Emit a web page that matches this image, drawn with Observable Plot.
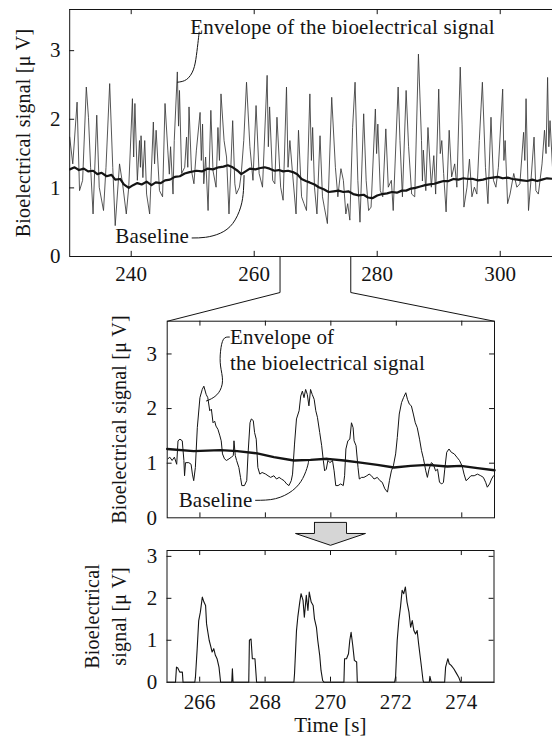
<!DOCTYPE html>
<html>
<head>
<meta charset="utf-8">
<script src="https://cdn.jsdelivr.net/npm/d3@7"></script>
<script src="https://cdn.jsdelivr.net/npm/@observablehq/plot@0.6"></script>
<style>
  html, body { margin: 0; padding: 0; background: #fff; }
  #chart { position: relative; width: 552px; height: 736px; overflow: hidden; }
  #chart svg { position: absolute; left: 0; top: 0; }
  #chart svg text { font-family: "Liberation Serif", "Times New Roman", serif; letter-spacing: 0.2px; }
</style>
</head>
<body>
<div id="chart"></div>
<script>
// ---------- DATA ----------
// Top panel: envelope of the bioelectrical signal [time s, µV]
const topEnvelope = [
  [230.0,1.74],[230.5,1.35],[231.2,2.25],[231.6,0.96],[232.1,1.11],[232.7,2.47],[233.05,2.03],[233.4,1.30],[233.8,0.62],[234.4,2.06],
  [234.8,1.01],[235.5,0.67],[235.9,1.30],[236.5,2.52],[237.0,1.30],[237.4,0.45],[238.1,1.35],[238.6,1.06],[239.2,0.62],[239.6,1.01],
  [240.2,2.30],[240.4,1.45],[240.6,2.23],[241.0,1.11],[241.35,1.69],[241.5,1.30],[241.6,1.76],[241.9,1.15],[242.2,1.69],[242.5,0.91],
  [243.0,0.62],[243.6,1.96],[243.8,1.35],[244.05,1.84],[244.6,0.96],[245.1,0.87],[245.5,2.23],[245.95,1.55],[246.2,1.20],[246.4,1.60],
  [246.8,0.91],[247.0,1.69],[247.5,2.69],[247.7,1.90],[247.85,2.42],[248.2,1.21],[248.7,1.30],[249.0,1.74],[249.2,1.30],[249.4,2.18],
  [249.8,1.25],[250.2,1.06],[250.6,1.55],[251.2,2.10],[251.4,1.40],[251.6,1.93],[251.8,1.06],[252.1,1.45],[252.5,0.67],[252.95,2.13],
  [253.3,1.25],[253.8,1.01],[254.1,1.88],[254.35,1.40],[254.6,2.37],[255.1,1.69],[255.5,1.45],[255.9,0.62],[256.5,1.98],[256.85,1.06],
  [257.1,0.91],[257.6,1.01],[257.9,1.21],[258.3,1.69],[258.75,2.54],[259.3,1.60],[259.8,1.11],[260.3,2.20],[260.8,1.21],[261.35,1.01],
  [262.1,2.64],[262.3,1.60],[262.5,2.18],[263.0,1.11],[263.35,1.06],[263.7,2.03],[264.3,1.01],[264.7,0.82],[265.25,2.47],[265.5,1.30],
  [265.8,1.69],[266.2,1.25],[266.8,0.62],[267.2,1.84],[267.7,0.87],[268.1,0.77],[268.5,0.67],[269.05,2.37],[269.3,1.40],[269.5,1.88],
  [269.8,1.01],[270.2,0.62],[270.7,1.76],[271.1,0.87],[271.4,0.72],[271.9,0.48],[272.6,2.32],[273.2,1.30],[273.6,0.87],[274.1,1.28],
  [274.5,1.11],[274.9,0.62],[275.2,0.77],[275.55,0.53],[276.0,1.88],[276.4,2.54],[276.85,1.11],[277.2,0.50],[277.8,2.08],[278.2,1.11],
  [278.6,0.67],[279.0,0.72],[279.7,2.15],[279.9,1.50],[280.1,1.93],[280.5,0.96],[280.9,0.87],[281.4,1.86],[281.8,1.01],[282.3,1.11],
  [282.6,0.67],[283.4,2.47],[283.7,1.69],[284.1,0.87],[284.7,2.42],[285.1,1.60],[285.6,0.91],[286.1,0.87],[286.7,2.95],[287.2,1.69],
  [287.35,1.10],[287.5,1.55],[287.9,0.96],[288.25,1.88],[288.8,1.01],[289.2,1.47],[289.5,0.91],[290.0,2.44],[290.25,1.50],[290.5,1.69],
  [290.8,1.21],[291.2,0.65],[291.7,1.84],[292.1,1.16],[292.6,1.35],[292.95,1.01],[293.5,2.76],[293.8,1.93],[294.1,0.72],[294.6,1.01],
  [295.0,1.42],[295.4,0.87],[295.8,1.01],[296.2,0.91],[296.6,1.69],[297.1,2.54],[297.6,1.30],[298.0,0.77],[298.5,2.03],[298.9,1.11],
  [299.3,1.01],[299.7,1.30],[300.4,2.44],[300.6,1.40],[300.8,1.69],[301.2,0.77],[301.6,0.91],[302.2,1.21],[302.7,1.01],[303.2,1.06],
  [303.8,1.81],[304.0,1.40],[304.2,2.30],[304.6,0.67],[305.0,1.11],[305.5,1.74],[305.8,0.96],[306.2,0.91],[306.8,1.35],[307.2,1.84],
  [307.45,1.50],[307.7,2.61],[307.9,1.60],[308.1,1.98],[308.5,1.30],[308.8,1.10]
];
// Top panel: baseline
const topBaseline = [
  [230.0,1.27],[230.8,1.30],[231.5,1.26],[232.3,1.28],[233.0,1.24],[233.8,1.25],[234.5,1.20],[235.2,1.22],[236.0,1.17],[236.8,1.19],
  [237.4,1.12],[238.2,1.13],[238.8,1.05],[239.6,1.00],[240.3,1.04],[241.0,1.07],[241.7,1.05],[242.5,1.09],[243.3,1.04],[244.0,1.08],
  [244.8,1.07],[245.5,1.11],[246.3,1.12],[247.1,1.16],[247.9,1.17],[248.7,1.21],[249.5,1.23],[250.6,1.25],[251.5,1.24],[252.4,1.28],
  [253.3,1.27],[254.2,1.30],[255.0,1.31],[255.7,1.33],[256.5,1.30],[257.3,1.25],[257.9,1.20],[258.6,1.24],[259.3,1.28],[260.2,1.27],
  [261.0,1.29],[261.7,1.30],[262.5,1.28],[263.3,1.25],[264.0,1.26],[264.7,1.24],[265.5,1.25],[266.3,1.23],[267.0,1.20],[267.7,1.13],
  [268.4,1.10],[269.0,1.08],[269.8,1.05],[270.5,1.01],[271.3,0.98],[272.1,0.94],[272.9,0.95],[273.7,0.96],[274.5,0.94],[275.3,0.95],
  [276.1,0.91],[277.0,0.89],[277.8,0.90],[278.5,0.86],[279.2,0.85],[280.0,0.89],[280.8,0.91],[281.6,0.92],[282.4,0.94],[283.2,0.93],
  [284.0,0.96],[284.7,0.96],[285.5,0.99],[286.2,1.00],[287.0,1.02],[287.8,1.04],[288.5,1.05],[289.3,1.06],[290.0,1.08],[290.8,1.10],
  [291.6,1.10],[292.4,1.13],[293.2,1.12],[294.0,1.14],[294.8,1.13],[295.6,1.13],[296.4,1.11],[297.2,1.12],[298.0,1.14],[298.8,1.15],
  [299.6,1.16],[300.4,1.14],[301.2,1.15],[302.0,1.13],[302.8,1.12],[303.6,1.11],[304.4,1.10],[305.2,1.12],[306.0,1.10],[306.8,1.12],
  [307.6,1.14],[308.8,1.13]
];
// Middle panel (zoom 265-275 s): envelope
const midEnvelope = [
  [265.02,1.08],[265.08,1.11],[265.15,1.05],[265.22,1.11],[265.29,0.98],[265.33,1.41],[265.39,1.44],[265.46,1.41],[265.51,1.05],[265.53,0.77],
  [265.56,1.01],[265.66,1.01],[265.73,0.98],[265.77,0.80],[265.81,0.68],[265.86,0.92],[265.92,1.65],[266.00,2.20],[266.07,2.35],[266.12,2.41],
  [266.19,2.26],[266.24,2.20],[266.30,1.96],[266.35,1.99],[266.40,1.74],[266.45,1.77],[266.49,1.68],[266.55,1.62],[266.61,1.50],[266.65,1.41],
  [266.69,1.17],[266.75,1.08],[266.81,1.05],[266.89,1.08],[266.96,1.11],[267.02,1.14],[267.04,1.41],[267.08,1.14],[267.12,1.05],[267.19,0.92],
  [267.24,0.74],[267.28,0.59],[267.36,0.59],[267.43,0.68],[267.47,1.17],[267.53,1.74],[267.57,1.81],[267.63,1.78],[267.67,1.56],[267.72,1.44],
  [267.77,0.92],[267.83,0.80],[267.90,0.83],[268.01,0.80],[268.08,0.77],[268.16,0.74],[268.26,0.77],[268.34,0.71],[268.42,0.74],[268.49,0.71],
  [268.57,0.68],[268.65,0.62],[268.72,0.59],[268.79,0.68],[268.83,0.80],[268.89,1.35],[268.95,1.81],[269.03,1.96],[269.08,2.23],[269.13,2.32],
  [269.18,2.20],[269.23,2.35],[269.28,2.26],[269.33,2.05],[269.38,2.35],[269.43,2.26],[269.49,2.17],[269.54,1.96],[269.59,1.84],[269.66,1.56],
  [269.72,1.32],[269.77,1.05],[269.81,0.86],[269.86,0.89],[269.91,1.05],[269.97,1.01],[270.05,1.05],[270.10,0.86],[270.15,0.59],[270.22,0.59],
  [270.30,0.62],[270.38,0.59],[270.42,0.77],[270.46,1.26],[270.52,1.41],[270.58,1.44],[270.63,1.74],[270.68,1.65],[270.71,1.41],[270.77,1.32],
  [270.83,0.92],[270.87,0.71],[270.94,0.74],[271.01,0.74],[271.10,0.77],[271.17,0.80],[271.24,0.77],[271.32,0.71],[271.42,0.74],[271.50,0.68],
  [271.57,0.65],[271.65,0.53],[271.73,0.47],[271.79,0.68],[271.85,0.86],[271.91,0.95],[271.98,1.17],[272.03,1.47],[272.09,1.90],[272.16,2.11],
  [272.22,2.20],[272.29,2.29],[272.34,2.17],[272.40,2.08],[272.46,2.05],[272.52,1.90],[272.58,1.74],[272.64,1.65],[272.71,1.44],[272.77,1.23],
  [272.83,1.08],[272.90,0.86],[272.95,0.74],[273.00,0.89],[273.07,1.01],[273.13,0.98],[273.20,0.86],[273.26,0.89],[273.32,0.65],[273.39,0.62],
  [273.44,0.65],[273.48,0.89],[273.54,1.20],[273.61,1.26],[273.68,1.20],[273.77,1.17],[273.85,1.11],[273.93,1.05],[274.01,0.95],[274.07,0.80],
  [274.13,0.68],[274.19,0.71],[274.28,0.77],[274.38,0.77],[274.48,0.80],[274.58,0.77],[274.66,0.74],[274.73,0.65],[274.78,0.56],[274.85,0.62],
  [274.91,0.71],[274.97,0.77]
];
// Middle panel: baseline
const midBaseline = [
  [265.0,1.26],[265.81,1.22],[266.63,1.24],[267.14,1.22],[267.75,1.18],[268.26,1.11],[268.87,1.05],[269.38,1.06],[269.89,1.08],[270.40,1.05],
  [270.91,1.01],[271.42,0.97],[271.93,0.92],[272.44,0.95],[272.95,0.97],[273.56,0.94],[273.97,0.95],[274.48,0.91],[275.0,0.87]
];
// Bottom panel: envelope minus baseline (clipped at 0)
const bottomSignal = [
  [265.0,0],[265.26,0],[265.29,0.36],[265.33,0.34],[265.39,0.24],[265.47,0.24],[265.49,0],[265.85,0],[265.87,0.12],[265.92,0.76],
  [265.97,1.47],[266.02,1.67],[266.08,2.03],[266.13,1.91],[266.18,1.83],[266.21,1.39],[266.25,1.19],[266.29,1.00],[266.33,0.88],[266.38,0.72],
  [266.43,0.80],[266.48,0.64],[266.53,0.56],[266.59,0.36],[266.64,0],[266.98,0],[267.00,0.32],[267.02,0],[267.50,0],[267.52,1.00],
  [267.57,1.03],[267.61,0.56],[267.69,0.56],[267.74,0],[268.88,0],[268.90,0.20],[268.96,1.23],[269.00,1.55],[269.06,1.91],[269.10,2.11],
  [269.16,1.95],[269.20,1.55],[269.26,2.07],[269.31,1.71],[269.35,2.15],[269.41,1.91],[269.47,1.83],[269.51,1.51],[269.57,1.31],[269.61,1.00],
  [269.67,0.64],[269.71,0.28],[269.76,0.04],[269.80,0],[270.41,0],[270.43,0.56],[270.49,0.56],[270.55,0.68],[270.59,1.00],[270.63,1.19],
  [270.68,0.88],[270.73,0.52],[270.80,0.48],[270.82,0],[271.96,0],[271.99,0.12],[272.04,1.00],[272.09,1.47],[272.14,1.79],[272.19,2.19],
  [272.24,2.11],[272.29,2.27],[272.34,1.91],[272.40,1.67],[272.45,1.31],[272.50,1.47],[272.55,1.23],[272.60,1.15],[272.65,1.23],[272.70,0.88],
  [272.77,0.44],[272.83,0.04],[272.85,0],[273.02,0],[273.04,0.14],[273.08,0],[273.49,0],[273.52,0.36],[273.59,0.56],[273.63,0.44],
  [273.69,0.40],[273.77,0.32],[273.83,0.24],[273.92,0.12],[273.98,0],[275.0,0]
];
// Axis ticks
const topXTicks = [240, 260, 280, 300];
const zoomXTicks = [266, 268, 270, 272, 274];
const yTicks = [0, 1, 2, 3];
const yInnerTicks = [1, 2, 3];
// Zoomed interval as marked on the top axis, and the middle panel's corners in top-axis units
const zoomMarks = [264.2, 275.7];
const zoomCorners = [245.9, 299.0];
// Text
const yLabel = "Bioelectrical signal [μ V]";
const yLabelShort = "Bioelectrical\nsignal [μ V]";
const xLabel = "Time [s]";
const envLabelTop = "Envelope of the bioelectrical signal";
const envLabelMid = "Envelope of\nthe bioelectrical signal";
const baseLabel = "Baseline";

// ---------- ANNOTATION GEOMETRY (in each panel's data units) ----------
const topEnvLeader = [[247.55,2.54],[249.0,2.58],[250.1,2.72],[250.6,2.93],[250.9,3.15],[251.05,3.27]];
const topBaseLeader = [[249.9,0.27],[252.1,0.28],[254.5,0.34],[256.5,0.48],[257.8,0.72],[258.25,0.96],[258.35,1.18]];
const midEnvLeader = [[266.9,3.31],[266.72,3.27],[266.63,3.05],[266.63,2.78],[266.69,2.51],[266.57,2.29],[266.35,2.18],[266.2,2.14]];
const midBaseLeader = [[267.7,0.32],[268.31,0.35],[268.83,0.50],[269.14,0.72],[269.29,0.95],[269.32,1.05]];
const arrowShape = [[269.51,3.81],[270.49,3.81],[270.49,3.546],[271.07,3.546],[270.0,3.264],[268.93,3.546],[269.51,3.546],[269.51,3.81]];

// ---------- DRAWING ----------
const W = 552, H = 736;
const INK = "#141414";
const FONT = "Liberation Serif";
const baseStyle = {background: "transparent", fontFamily: FONT, fontSize: "21px", color: INK, overflow: "visible"};
const txt = {fontFamily: FONT, fontSize: 21};     // horizontal texts
const vtxt = {fontFamily: FONT, fontSize: 20};    // rotated axis titles
const fmt = d => String(d);

function panel(frame, xDomain, yDomain, marks) {
  const [l, t, r, b] = frame;
  return Plot.plot({
    width: W, height: H,
    marginLeft: l, marginTop: t, marginRight: W - r, marginBottom: H - b,
    x: {domain: xDomain, axis: null},
    y: {domain: yDomain, axis: null},
    style: baseStyle,
    marks
  });
}
const X = d => d[0], Y = d => d[1];
const connectors = zoomMarks.map((m, i) => [[m, 0], [m, -0.525], [zoomCorners[i], -0.943]]);

// Top panel
const topX = [230, 308.5], topY = [0, 3.6];
const topPanel = panel([69.2, 9, 552, 256], topX, topY, [
  Plot.line(topEnvelope, {x: X, y: Y, stroke: "#383838", strokeWidth: 0.85, clip: true}),
  Plot.line(topBaseline, {x: X, y: Y, stroke: INK, strokeWidth: 2.2, clip: true}),
  Plot.ruleY([topY[0], topY[1]], {stroke: INK, strokeWidth: 1}),
  Plot.ruleX([topX[0]], {stroke: INK, strokeWidth: 1}),
  Plot.ruleX(topXTicks, {y1: 0, y2: 0.075, stroke: INK}),
  Plot.ruleX(topXTicks, {y1: topY[1] - 0.075, y2: topY[1], stroke: INK}),
  Plot.ruleY(yInnerTicks, {x1: topX[0], x2: topX[0] + 0.8, stroke: INK}),
  Plot.axisX(topXTicks, {tickSize: 0, tickPadding: 10, label: null, tickFormat: fmt, ...txt}),
  Plot.axisY(yTicks, {tickSize: 0, tickPadding: 9, label: null, tickFormat: fmt, ...txt}),
  Plot.text([yLabel], {text: d => d, frameAnchor: "left", rotate: -90, dx: -40, textAnchor: "middle", lineAnchor: "bottom", ...vtxt}),
  Plot.line(topEnvLeader, {x: X, y: Y, curve: "natural", stroke: INK, strokeWidth: 1}),
  Plot.line(topBaseLeader, {x: X, y: Y, curve: "natural", stroke: INK, strokeWidth: 1}),
  Plot.text([envLabelTop], {text: d => d, x: 249.6, y: 3.25, textAnchor: "start", lineAnchor: "bottom", ...txt}),
  Plot.text([baseLabel], {text: d => d, x: 237.4, y: 0.19, textAnchor: "start", lineAnchor: "bottom", ...txt}),
  // connectors to the zoomed panel
  Plot.line(connectors[0], {x: X, y: Y, stroke: INK, strokeWidth: 1}),
  Plot.line(connectors[1], {x: X, y: Y, stroke: INK, strokeWidth: 1})
]);

// Middle panel
const midX = [265, 275], midY = [0, 3.6];
const midPanel = panel([166.7, 320.7, 494, 517.3], midX, midY, [
  Plot.line(midEnvelope, {x: X, y: Y, stroke: INK, strokeWidth: 1}),
  Plot.line(midBaseline, {x: X, y: Y, stroke: INK, strokeWidth: 2.4}),
  Plot.frame({stroke: INK, strokeWidth: 1}),
  Plot.ruleX(zoomXTicks, {y1: 0, y2: 0.09, stroke: INK}),
  Plot.ruleX(zoomXTicks, {y1: midY[1] - 0.09, y2: midY[1], stroke: INK}),
  Plot.ruleY(yInnerTicks, {x1: midX[0], x2: midX[0] + 0.15, stroke: INK}),
  Plot.ruleY(yInnerTicks, {x1: midX[1] - 0.15, x2: midX[1], stroke: INK}),
  Plot.axisY(yTicks, {tickSize: 0, tickPadding: 10, label: null, tickFormat: fmt, ...txt}),
  Plot.text([yLabel], {text: d => d, frameAnchor: "left", rotate: -90, dx: -41.7, textAnchor: "middle", lineAnchor: "bottom", ...vtxt}),
  Plot.line(midEnvLeader, {x: X, y: Y, curve: "natural", stroke: INK, strokeWidth: 1}),
  Plot.line(midBaseLeader, {x: X, y: Y, curve: "natural", stroke: INK, strokeWidth: 1}),
  Plot.text([envLabelMid], {text: d => d, x: 266.92, y: 2.71, textAnchor: "start", lineAnchor: "bottom", lineHeight: 1.24, ...txt}),
  Plot.text([baseLabel], {text: d => d, x: 265.35, y: 0.19, textAnchor: "start", lineAnchor: "bottom", ...txt})
]);

// Bottom panel
const botX = [265, 275], botY = [0, 3.14];
const botPanel = panel([166.5, 550, 493.5, 681.7], botX, botY, [
  Plot.line(arrowShape, {x: X, y: Y, fill: "#d6d6d6", stroke: INK, strokeWidth: 1}),
  Plot.line(bottomSignal, {x: X, y: Y, stroke: INK, strokeWidth: 1.1}),
  Plot.frame({stroke: INK, strokeWidth: 1}),
  Plot.ruleX(zoomXTicks, {y1: 0, y2: 0.12, stroke: INK}),
  Plot.ruleX(zoomXTicks, {y1: botY[1] - 0.12, y2: botY[1], stroke: INK}),
  Plot.ruleY(yInnerTicks, {x1: botX[0], x2: botX[0] + 0.15, stroke: INK}),
  Plot.ruleY(yInnerTicks, {x1: botX[1] - 0.15, x2: botX[1], stroke: INK}),
  Plot.axisX(zoomXTicks, {tickSize: 0, tickPadding: 11.5, label: null, tickFormat: fmt, ...txt}),
  Plot.axisY(yTicks, {tickSize: 0, tickPadding: 9.5, label: null, tickFormat: fmt, ...txt}),
  Plot.text([yLabelShort], {text: d => d, frameAnchor: "left", rotate: -90, dx: -41.5, textAnchor: "middle", lineAnchor: "bottom", lineHeight: 1.35, ...vtxt}),
  Plot.text([xLabel], {text: d => d, frameAnchor: "bottom", dy: 49.5, lineAnchor: "bottom", ...txt})
]);

document.getElementById("chart").append(topPanel, midPanel, botPanel);
</script>
</body>
</html>
